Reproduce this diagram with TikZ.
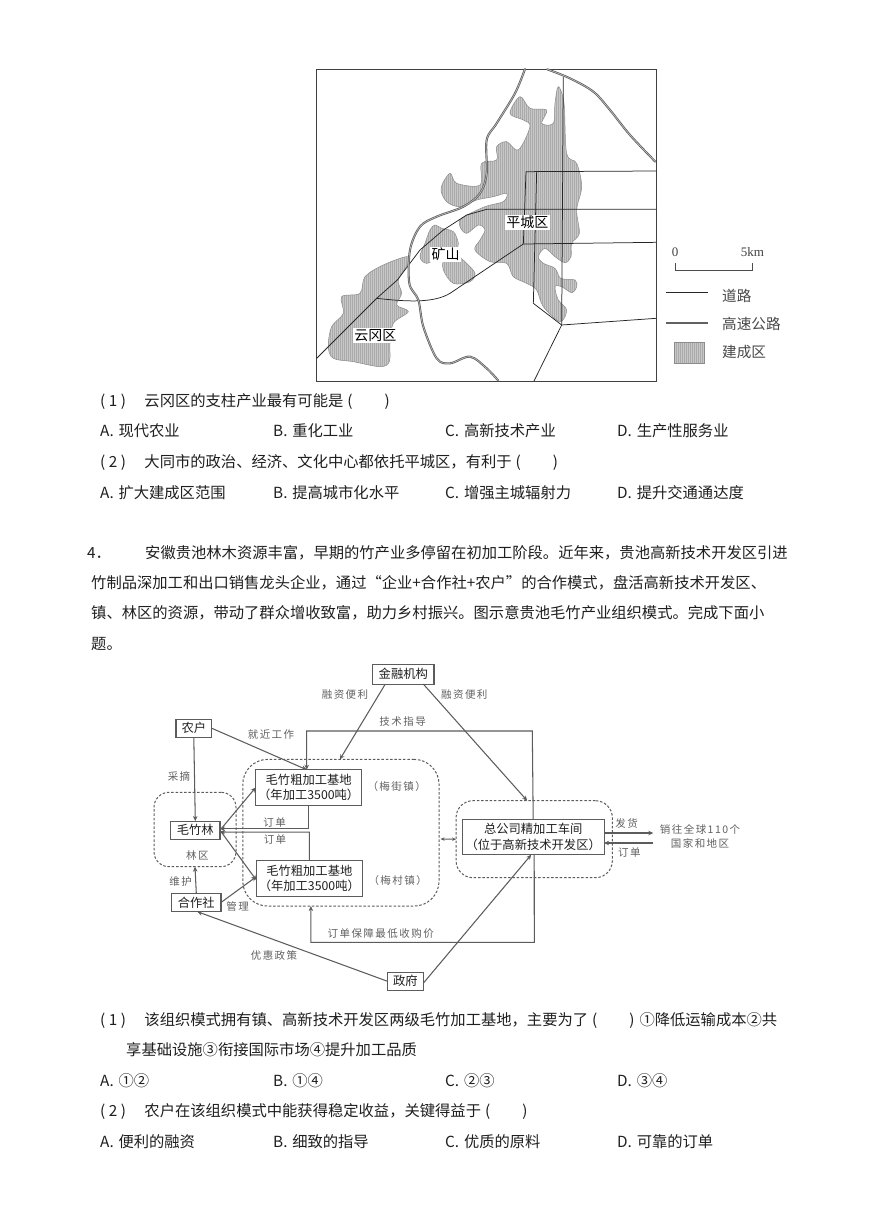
\documentclass[tikz,border=0pt]{standalone}
\usepackage{fontspec}
\setmainfont{Noto Sans CJK SC}
\newfontfamily\labfont[LetterSpace=14]{Noto Sans CJK SC}
\newfontfamily\serifnum{Liberation Serif}
\usetikzlibrary{arrows.meta}
\definecolor{ink}{gray}{0.12}
\definecolor{diag}{gray}{0.36}
\definecolor{lab}{gray}{0.38}
\tikzset{
  txt/.style={anchor=base west,inner sep=0pt,yshift=-6.3pt,text=ink,font=\fontsize{15.3}{15.3}\selectfont},
  boxa/.style={draw=diag,line width=1.1pt,outer sep=0pt,inner sep=0pt,align=center,text=ink,font=\fontsize{12.3}{15.5}\selectfont},
  zone/.style={draw=diag,line width=1pt,dash pattern=on 2.5pt off 1.8pt,outer sep=0pt,inner sep=0pt},
  lbl/.style={inner sep=0pt,text=lab,align=center,font=\labfont\fontsize{10.5}{14.3}\selectfont},
  conn/.style={draw=diag,line width=1.05pt},
  arr/.style={conn,-{Stealth[length=5pt,width=4.5pt]}},
  darr/.style={conn,{Stealth[length=4pt,width=3.5pt]}-{Stealth[length=4pt,width=3.5pt]}},
  frameline/.style={draw=black!75,line width=.9pt},
  road/.style={draw=black!85,line width=.75pt,line join=round},
  hwyo/.style={draw=black!62,line width=2.1pt,line cap=round},
  hwyi/.style={draw=white!80!black,line width=.5pt},
  hatchbg/.style={fill=black!22},
  hatchline/.style={draw=black!33,line width=.7pt},
  hatchedge/.style={draw=black!45,line width=.5pt},
  maplab/.style={fill=white,inner sep=1.2pt,text=black,font=\fontsize{14}{14}\selectfont},
  leglab/.style={anchor=west,inner sep=0pt,text=black!72,font=\fontsize{14.6}{14.6}\selectfont},
  scalelab/.style={inner sep=0pt,text=black!75,font=\serifnum\fontsize{13}{13}\selectfont},
}
\newcommand{\hatchzone}[1]{%
  \begin{scope}
    \clip plot[smooth cycle,tension=.55] coordinates {#1};
    \fill[hatchbg] (0,0) rectangle (1100,1000);
    \foreach \i in {0,6,...,1098} \draw[hatchline] (\i,0) -- (\i,1000);
  \end{scope}
  \draw[hatchedge] plot[smooth cycle,tension=.55] coordinates {#1};
}
\newcommand{\qlab}[1]{\makebox[44.3pt][l]{(\kern3.5pt#1\kern3.5pt)}}
\newcommand{\blank}{\kern4pt(\hspace{32pt})}
\newcommand{\opt}[1]{#1.\kern4.8pt}
\begin{document}
\begin{tikzpicture}[x=1pt,y=-1pt]
\useasboundingbox (0,0) rectangle (869,1229);
\fill[white] (0,0) rectangle (869,1229);

% ---------- map ----------
\begin{scope}[shift={(310,60)},x=.33333pt,y=-.33333pt]
  \hatchzone{(745,80)(762,130)(770,280)(800,310)(815,380)(800,450)(808,520)(785,550)(783,590)(765,608)(735,590)(705,565)(685,590)(700,610)(735,625)(752,655)(795,660)(800,680)(785,698)(755,680)(735,680)(745,720)(770,750)(750,785)(700,740)(680,690)(650,670)(610,650)(590,610)(540,605)(495,570)(510,540)(525,510)(505,495)(470,520)(450,500)(455,475)(525,440)(580,425)(590,400)(550,410)(500,420)(450,440)(410,425)(393,385)(420,340)(440,370)(510,375)(515,310)(560,300)(560,260)(590,245)(625,270)(660,200)(640,180)(600,160)(630,110)(660,145)(710,150)(695,190)(730,190)(735,130)}
  \hatchzone{(375,495)(395,505)(430,515)(445,550)(440,580)(470,610)(495,640)(480,665)(430,670)(400,630)(395,590)(350,610)(330,590)(345,550)(360,510)}
  \hatchzone{(290,590)(295,610)(265,660)(275,700)(260,735)(295,755)(250,790)(240,850)(238,905)(210,920)(130,905)(70,895)(55,860)(65,800)(100,760)(95,710)(150,700)(165,650)(220,615)}
  \draw[frameline] (20,27) rectangle (1038,963);
  \draw[road] (20,895) -- (200,715) -- (262,660) -- (330,570) -- (400,510) -- (470,465) -- (530,448) -- (1038,448);
  \draw[road] (200,715) .. controls (290,725) and (370,730) .. (420,700) -- (640,552) -- (1038,547);
  \draw[road] (640,552) -- (648,335) -- (1040,333);
  \draw[road] (680,335) -- (670,730) -- (755,795) -- (1038,775);
  \draw[road] (760,50) -- (755,795) -- (672,963);
  \foreach \sty in {hwyo,hwyi}{
    \draw[\sty] plot[smooth,tension=.55] coordinates {(645,27)(615,100)(560,190)(530,240)(530,340)(510,400)(460,440)(380,470)(330,500)(300,570)(298,670)(325,720)(340,800)(380,895)(420,910)(480,890)(530,925)(565,962)};
    \draw[\sty] plot[smooth,tension=.55] coordinates {(712,28)(780,55)(850,95)(900,150)(960,225)(1036,305)};
  }
  \node[maplab] (pingcheng) at (652,488) {平城区};
  \node[maplab] (kuangshan) at (407,583) {矿山};
  \node[maplab] (yungang) at (196,827) {云冈区};
\end{scope}

% ---------- legend ----------
\node[scalelab] (scalezero) at (675,252) {0};
\node[scalelab] (scalefive) at (752.5,252) {5km};
\draw[draw=black!70,line width=.8pt] (675,263) -- (675,270.7) -- (752,270.7) -- (752,263);
\draw[road] (666,292.7) -- (708,292.7);
\draw[hwyo,line cap=butt] (666,322.7) -- (708,322.7);
\begin{scope}[shift={(660,230)},x=.33333pt,y=-.33333pt]
  \begin{scope}
    \clip (42,338) rectangle (132,400);
    \fill[hatchbg] (42,338) rectangle (132,400);
    \foreach \i in {42,48,...,132} \draw[hatchline] (\i,338) -- (\i,400);
  \end{scope}
  \draw[hatchedge] (42,338) rectangle (132,400);
\end{scope}
\node[leglab] (legroad) at (722,296) {道路};
\node[leglab] (leghwy) at (722,324) {高速公路};
\node[leglab] (legarea) at (722,352) {建成区};

% ---------- question text, upper ----------
\node[txt] (q1) at (100,400) {\qlab{1}云冈区的支柱产业最有可能是\blank};
\node[txt] (q1a) at (100,430) {\opt{A}现代农业};
\node[txt] (q1b) at (273,430) {\opt{B}重化工业};
\node[txt] (q1c) at (445,430) {\opt{C}高新技术产业};
\node[txt] (q1d) at (617,430) {\opt{D}生产性服务业};
\node[txt] (q2) at (100,461) {\qlab{2}大同市的政治、经济、文化中心都依托平城区，有利于\blank};
\node[txt] (q2a) at (100,492) {\opt{A}扩大建成区范围};
\node[txt] (q2b) at (273,492) {\opt{B}提高城市化水平};
\node[txt] (q2c) at (445,492) {\opt{C}增强主城辐射力};
\node[txt] (q2d) at (617,492) {\opt{D}提升交通通达度};

\node[txt] (p0) at (87,551.7) {4．};
\node[txt] (p1) at (145,551.7) {安徽贵池林木资源丰富，早期的竹产业多停留在初加工阶段。近年来，贵池高新技术开发区引进};
\node[txt] (p2) at (91,582) {竹制品深加工和出口销售龙头企业，通过“企业+合作社+农户”的合作模式，盘活高新技术开发区、};
\node[txt] (p3) at (91,611.7) {镇、林区的资源，带动了群众增收致富，助力乡村振兴。图示意贵池毛竹产业组织模式。完成下面小};
\node[txt] (p4) at (91,643) {题。};

% ---------- flow diagram: zones and boxes ----------
\node[zone,rounded corners=15pt,minimum width=82pt,minimum height=74.4pt] (forestzone) at (195,829.5) {};
\node[zone,rounded corners=25pt,minimum width=196.3pt,minimum height=146.7pt] (midzone) at (340.9,832.7) {};
\node[zone,rounded corners=17pt,minimum width=156.3pt,minimum height=77pt] (hqzone) at (534.2,839.2) {};

\node[boxa,minimum width=61.3pt,minimum height=19.7pt] (finance) at (403.3,674.2) {金融机构};
\node[boxa,minimum width=35.7pt,minimum height=18.3pt] (farmer) at (193.8,728.2) {农户};
\node[boxa,minimum width=49.3pt,minimum height=18.3pt] (forest) at (195.3,830.2) {毛竹林};
\node[boxa,minimum width=49.3pt,minimum height=18.3pt] (coop) at (196.3,902.5) {合作社};
\node[boxa,minimum width=36pt,minimum height=17.7pt] (gov) at (405.3,981.2) {政府};
\node[boxa,minimum width=106pt,minimum height=35.6pt] (base1) at (308.7,787.5) {毛竹粗加工基地\\（年加工3500吨）};
\node[boxa,minimum width=106pt,minimum height=35.6pt] (base2) at (309.3,878.5) {毛竹粗加工基地\\（年加工3500吨）};
\node[boxa,minimum width=141.7pt,minimum height=35.7pt] (hq) at (533.2,836.9) {总公司精加工车间\\（位于高新技术开发区）};

% ---------- flow diagram: connectors ----------
\coordinate (techa) at (532.3,731);
\coordinate (techb) at (306.7,731);
\coordinate (orda) at (308.7,828.7);
\coordinate (ordb) at (309.3,832.2);
\coordinate (guara) at (534.3,942.3);
\coordinate (guarb) at (310.9,942.3);
\coordinate (marketout) at (653.3,833);
\coordinate (marketin) at (653.3,843);

\draw[arr] ([xshift=-18pt]finance.south) -- ([xshift=-1pt]midzone.north);
\draw[arr] ([xshift=20pt]finance.south) -- ([xshift=-7pt]hqzone.north);
\draw[arr] (farmer.east) -- ([xshift=-2pt]base1.north);
\draw[arr] (hq.north) -- (techa) -- (techb) -- ([xshift=-2pt]base1.north);
\draw[arr] (farmer.south) -- (forest.north);
\draw[arr] (forest.east) -- (base1.west);
\draw[arr] (forest.east) -- ([yshift=-1.5pt]base2.west);
\draw[arr] (base1.south) -- (orda) -- ([yshift=1.5pt]forest.east);
\draw[arr] (base2.north) -- (ordb) -- ([yshift=-1.8pt]forest.east);
\draw[arr] (coop.north) -- (forestzone.south);
\draw[arr] (coop.east) -- ([yshift=1.8pt]base2.west);
\draw[arr] (gov.west) -- ([xshift=1pt]coop.south);
\draw[arr] ([yshift=-2pt]gov.east) -- ([xshift=-2pt]hq.south);
\draw[arr] ([xshift=1pt]hq.south) -- (guara) -- (guarb) -- ([xshift=-30pt]midzone.south);
\draw[darr] ([yshift=-6.3pt,xshift=1.5pt]midzone.east) -- (hqzone.west);
\draw[arr] ([yshift=3.9pt]hq.east) -- (marketout);
\draw[arr] (marketin) -- ([yshift=-6.1pt]hq.east);

% ---------- flow diagram: labels ----------
\node[lbl] (lfina) at (345,694.3) {融资便利};
\node[lbl] (lfinb) at (464.3,694.3) {融资便利};
\node[lbl] (ltech) at (402.7,721.7) {技术指导};
\node[lbl] (lwork) at (271,734) {就近工作};
\node[lbl] (lpick) at (179,776) {采摘};
\node[lbl] (lorda) at (274.7,822.3) {订单};
\node[lbl] (lordb) at (275,840) {订单};
\node[lbl] (lforest) at (197.3,855) {林区};
\node[lbl] (lmaint) at (180.7,881.7) {维护};
\node[lbl] (lmgmt) at (237.7,906.7) {管理};
\node[lbl] (ltowna) at (396.7,786.7) {（梅街镇）};
\node[lbl] (ltownb) at (397.7,880) {（梅村镇）};
\node[lbl] (lpolicy) at (274,955) {优惠政策};
\node[lbl] (lguar) at (380.7,934) {订单保障最低收购价};
\node[lbl] (lship) at (626.7,823.3) {发货};
\node[lbl] (lordc) at (629.3,852.7) {订单};
\node[lbl] (lmarket) at (700,836.5) {销往全球110个\\国家和地区};

% ---------- question text, lower ----------
\node[txt] (r1) at (100,1019) {\qlab{1}该组织模式拥有镇、高新技术开发区两级毛竹加工基地，主要为了\blank\kern5pt①降低运输成本②共};
\node[txt] (r1b) at (126,1049) {享基础设施③衔接国际市场④提升加工品质};
\node[txt] (r1ca) at (100,1080) {\opt{A}①②};
\node[txt] (r1cb) at (273,1080) {\opt{B}①④};
\node[txt] (r1cc) at (445,1080) {\opt{C}②③};
\node[txt] (r1cd) at (617,1080) {\opt{D}③④};
\node[txt] (r2) at (100,1110) {\qlab{2}农户在该组织模式中能获得稳定收益，关键得益于\blank};
\node[txt] (r2a) at (100,1141) {\opt{A}便利的融资};
\node[txt] (r2b) at (273,1141) {\opt{B}细致的指导};
\node[txt] (r2c) at (445,1141) {\opt{C}优质的原料};
\node[txt] (r2d) at (617,1141) {\opt{D}可靠的订单};
\end{tikzpicture}
\end{document}
